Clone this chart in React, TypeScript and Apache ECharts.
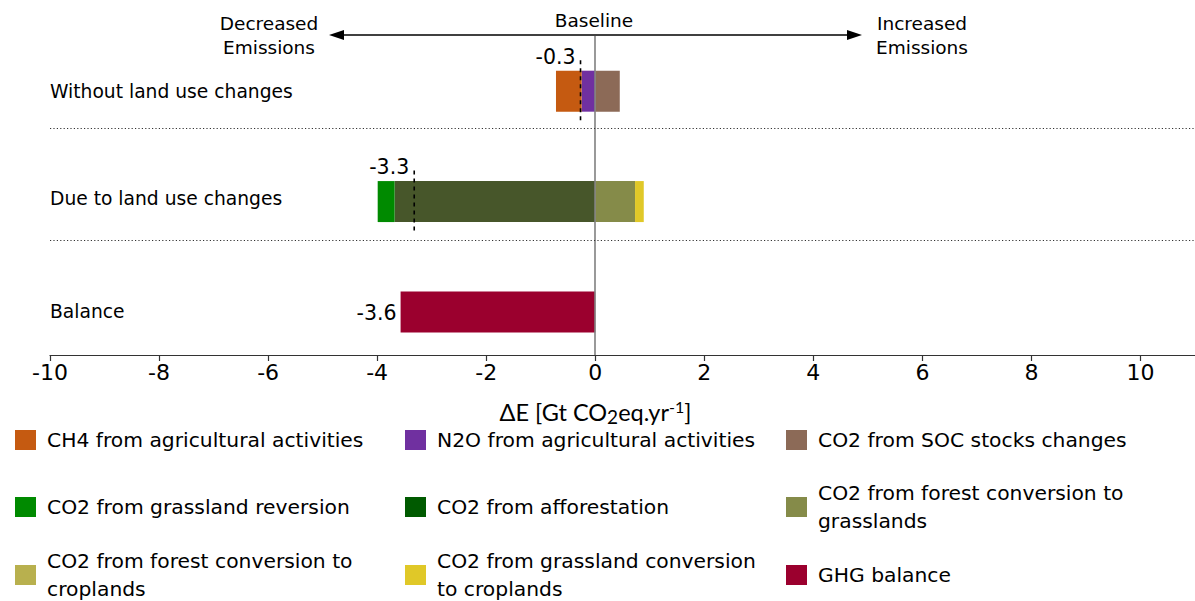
import React, { useEffect, useRef } from 'react';
import * as echarts from 'echarts';

// ---------- data ----------
const categories = ['Balance', 'Due to land use changes', 'Without land use changes'];
const categoryPos = [0, 1, 2];

// values per category, in order [Balance, Due to land use changes, Without land use changes]
const ch4Agri = [0, 0, -0.47];
const n2oAgri = [0, 0, -0.25];
const socChanges = [0, 0, 0.45];
const grasslandReversion = [0, -0.31, 0];
const afforestation = [0, -3.68, 0];
const forestToGrassland = [0, 0.73, 0];
const forestToCropland = [0, 0, 0];
const grasslandToCropland = [0, 0.16, 0];
const ghgBalance = [-3.57, 0, 0];

const netValues = [null, -3.32, -0.27];
const netLabels = ['', '-3.3', '-0.3'];
const balanceLabels = ['-3.6', '', ''];

const xTicksMin = -10;
const xTicksMax = 11;
const xInterval = 2;
const separatorValues = [0.645, 1.655];

const FONT = 'DejaVu Sans';
const BAR_H = 41;

type SeriesDef = {
  name: string;
  values: number[];
  color: string;
  legendColor?: string;
  legendText: string;
};

// stacking order: nearest to zero first
const stackDefs: SeriesDef[] = [
  { name: 'N2O from agricultural activities', values: n2oAgri, color: '#7030a0', legendText: 'N2O from agricultural activities' },
  { name: 'CH4 from agricultural activities', values: ch4Agri, color: '#c55a11', legendText: 'CH4 from agricultural activities' },
  { name: 'CO2 from SOC stocks changes', values: socChanges, color: '#8c6a57', legendText: 'CO2 from SOC stocks changes' },
  { name: 'CO2 from afforestation', values: afforestation, color: '#47562a', legendColor: '#005a00', legendText: 'CO2 from afforestation' },
  { name: 'CO2 from grassland reversion', values: grasslandReversion, color: '#008a00', legendText: 'CO2 from grassland reversion' },
  { name: 'CO2 from forest conversion to grasslands', values: forestToGrassland, color: '#858b49', legendText: 'CO2 from forest conversion to\ngrasslands' },
  { name: 'CO2 from forest conversion to croplands', values: forestToCropland, color: '#b8b04e', legendText: 'CO2 from forest conversion to\ncroplands' },
  { name: 'CO2 from grassland conversion to croplands', values: grasslandToCropland, color: '#e0c828', legendText: 'CO2 from grassland conversion\nto croplands' },
  { name: 'GHG balance', values: ghgBalance, color: '#9b002e', legendText: 'GHG balance' },
];

// legend grid: [name, column, row]
const legendOrder: [string, number, number][] = [
  ['CH4 from agricultural activities', 0, 0],
  ['N2O from agricultural activities', 1, 0],
  ['CO2 from SOC stocks changes', 2, 0],
  ['CO2 from grassland reversion', 0, 1],
  ['CO2 from afforestation', 1, 1],
  ['CO2 from forest conversion to grasslands', 2, 1],
  ['CO2 from forest conversion to croplands', 0, 2],
  ['CO2 from grassland conversion to croplands', 1, 2],
  ['GHG balance', 2, 2],
];
const legendColLeft = [15, 405, 786];
const legendRowIconTop = [430, 497, 565];

function buildOption() {
  const posSum = categories.map(() => 0);
  const negSum = categories.map(() => 0);

  const barSeries: any[] = stackDefs.map((def) => {
    const data: any[] = [];
    def.values.forEach((v, i) => {
      let start: number;
      if (v >= 0) {
        start = posSum[i];
        posSum[i] += v;
      } else {
        start = negSum[i];
        negSum[i] += v;
      }
      if (v !== 0) data.push([start, start + v, categoryPos[i], i]);
    });
    const isBalance = def.name === 'GHG balance';
    return {
      type: 'custom',
      name: def.name,
      itemStyle: { color: def.color },
      encode: { x: [0, 1], y: 2 },
      data,
      z: 3,
      renderItem: (params: any, api: any) => {
        const s = api.value(0);
        const e = api.value(1);
        const y = api.value(2);
        const idx = api.value(3);
        const p0 = api.coord([s, y]);
        const p1 = api.coord([e, y]);
        const x0 = Math.min(p0[0], p1[0]);
        const children: any[] = [
          {
            type: 'rect',
            shape: { x: x0, y: p0[1] - BAR_H / 2, width: Math.abs(p1[0] - p0[0]), height: BAR_H },
            style: { fill: def.color },
          },
        ];
        if (isBalance && balanceLabels[idx]) {
          children.push({
            type: 'text',
            x: x0 - 4,
            y: p0[1] + 1,
            style: {
              text: balanceLabels[idx],
              fontSize: 20.5,
              fontFamily: FONT,
              fill: '#000',
              align: 'right',
              verticalAlign: 'middle',
            },
          });
        }
        return { type: 'group', children };
      },
    };
  });

  const netData: any[] = [];
  netValues.forEach((v, i) => {
    if (v !== null) netData.push([v, categoryPos[i], i]);
  });

  const netSeries = {
    type: 'custom',
    name: '_net',
    encode: { x: 0, y: 1 },
    data: netData,
    z: 5,
    silent: true,
    renderItem: (params: any, api: any) => {
      const x = api.value(0);
      const y = api.value(1);
      const idx = api.value(2);
      const p = api.coord([x, y]);
      return {
        type: 'group',
        children: [
          {
            type: 'line',
            shape: { x1: p[0], y1: p[1] - BAR_H / 2 - 10.5, x2: p[0], y2: p[1] + BAR_H / 2 + 10.5 },
            style: { stroke: '#000', lineWidth: 1.6, lineDash: [4, 4] },
          },
          {
            type: 'text',
            x: p[0] - 5,
            y: p[1] - BAR_H / 2 - 14,
            style: {
              text: netLabels[idx],
              fontSize: 20.5,
              fontFamily: FONT,
              fill: '#000',
              align: 'right',
              verticalAlign: 'middle',
            },
          },
        ],
      };
    },
  };

  const labelSeries = {
    type: 'custom',
    name: '_labels',
    encode: { x: 0, y: 1 },
    data: categories.map((c, i) => [xTicksMin, categoryPos[i], i]),
    silent: true,
    renderItem: (params: any, api: any) => {
      const p = api.coord([api.value(0), api.value(1)]);
      const idx = api.value(2);
      return {
        type: 'text',
        x: p[0],
        y: p[1] - (idx === 1 ? 3 : 0),
        style: {
          text: categories[idx],
          fontSize: 18.7,
          fontFamily: FONT,
          fill: '#000',
          align: 'left',
          verticalAlign: 'middle',
        },
      };
    },
  };

  const refSeries = {
    type: 'line',
    name: '_ref',
    data: [],
    silent: true,
    markLine: {
      silent: true,
      symbol: 'none',
      label: { show: false },
      animation: false,
      data: [
        { xAxis: 0, lineStyle: { color: '#808080', width: 1.6, type: 'solid' } },
        ...separatorValues.map((v) => ({ yAxis: v, lineStyle: { color: '#333', width: 1, type: [1.2, 2.2] } })),
      ],
    },
  };

  const legends = legendOrder.map(([name, col, row]) => {
    const def = stackDefs.find((d) => d.name === name)!;
    const lines = def.legendText.split('\n').length;
    const top = legendRowIconTop[row] - (lines === 2 ? 18 : 4);
    return {
      left: legendColLeft[col],
      top,
      padding: 0,
      orient: 'vertical',
      selectedMode: false,
      icon: 'rect',
      itemWidth: 21,
      itemHeight: 20,
      itemStyle: { borderWidth: 0 },
      textStyle: {
        fontSize: 20.3,
        fontFamily: FONT,
        color: '#000',
        lineHeight: 28,
        padding: [0, 0, 0, 6],
      },
      formatter: () => def.legendText,
      data: [{ name, itemStyle: { color: def.legendColor || def.color } }],
    };
  });

  return {
    animation: false,
    backgroundColor: '#fff',
    grid: { left: 50, right: 0, top: 36, bottom: 246, containLabel: false },
    xAxis: {
      type: 'value',
      min: xTicksMin,
      max: xTicksMax,
      interval: xInterval,
      splitLine: { show: false },
      axisLine: { show: true, onZero: false, lineStyle: { color: '#333', width: 1.2 } },
      axisTick: { show: true, length: 6, lineStyle: { color: '#333', width: 1.2 } },
      axisLabel: { fontSize: 22, fontFamily: FONT, color: '#000', margin: 6, showMaxLabel: false },
      name: '{a|ΔE [Gt CO}{sub|2}{a|eq.yr}{sup|-1}{a|]}',
      nameLocation: 'middle',
      nameGap: 43,
      nameTextStyle: {
        padding: [0, 54, 0, 0],
        rich: {
          a: { fontSize: 23.5, fontFamily: 'Lato', color: '#000', lineHeight: 28 },
          sub: { fontSize: 19, fontFamily: 'Lato', color: '#000', lineHeight: 19, verticalAlign: 'bottom' },
          sup: { fontSize: 16, fontFamily: 'Lato', color: '#000', lineHeight: 16, verticalAlign: 'top' },
        },
      },
    },
    yAxis: { type: 'value', min: -0.39, max: 2.5, show: false },
    legend: legends,
    graphic: [
      { type: 'text', x: 594, y: 20, style: { text: 'Baseline', fontSize: 18.5, fontFamily: FONT, fill: '#000', align: 'center', verticalAlign: 'middle' } },
      { type: 'text', x: 269, y: 35, style: { text: 'Decreased\nEmissions', fontSize: 18.5, fontFamily: FONT, fill: '#000', align: 'center', verticalAlign: 'middle', lineHeight: 24 } },
      { type: 'text', x: 922, y: 35, style: { text: 'Increased\nEmissions', fontSize: 18.5, fontFamily: FONT, fill: '#000', align: 'center', verticalAlign: 'middle', lineHeight: 24 } },
      { type: 'line', shape: { x1: 340, y1: 35, x2: 851, y2: 35 }, style: { stroke: '#000', lineWidth: 1.6 } },
      { type: 'polygon', shape: { points: [[329, 35], [344, 30], [344, 40]] }, style: { fill: '#000' } },
      { type: 'polygon', shape: { points: [[862, 35], [847, 30], [847, 40]] }, style: { fill: '#000' } },
    ],
    series: [refSeries, ...barSeries, netSeries, labelSeries],
  };
}

export default function App() {
  const ref = useRef<HTMLDivElement>(null);
  useEffect(() => {
    if (!ref.current) return;
    const chart = echarts.init(ref.current, undefined, { renderer: 'svg' });
    chart.setOption(buildOption() as any);
    return () => chart.dispose();
  }, []);
  return (
    <div
      ref={ref}
      style={{ position: 'fixed', left: 0, top: 0, width: 1195, height: 601, background: '#fff' }}
    />
  );
}
